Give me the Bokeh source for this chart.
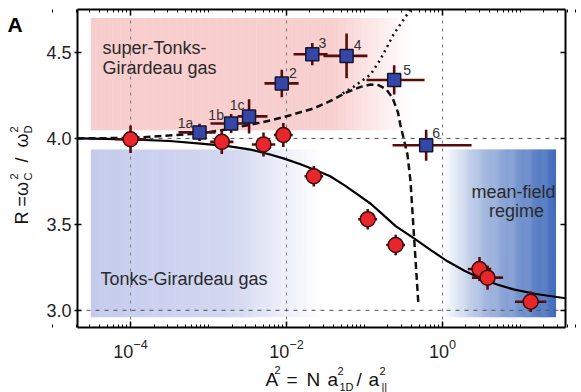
import math
import numpy as np
from bokeh.plotting import figure
from bokeh.models import (LogAxis, LinearAxis, FixedTicker, Label, ColumnDataSource,
                          LogTickFormatter, PrintfTickFormatter, Range1d, CustomJSTickFormatter)
from bokeh.embed import file_html
from bokeh.resources import INLINE
from bokeh.core.properties import value

# ---------------- data ----------------
red_x = [1.0e-4, 1.48e-3, 5.07e-3, 9.1e-3, 2.24e-2, 0.110, 0.251, 2.98, 3.78, 13.5]
red_y = [3.995, 3.98, 3.965, 4.02, 3.78, 3.53, 3.38, 3.24, 3.19, 3.05]
red_xlo = [6.3e-5, 1.05e-3, 3.59e-3, 6.9e-3, 1.7e-2, 8.3e-2, 0.19, 2.11, 2.38, 8.5]
red_xhi = [1.58e-4, 2.09e-3, 7.16e-3, 1.2e-2, 2.95e-2, 0.145, 0.331, 4.21, 5.98, 21.4]
red_yerr = [0.08, 0.07, 0.07, 0.07, 0.06, 0.06, 0.06, 0.07, 0.07, 0.06]

blue_labels = ["1a", "1b", "1c", "2", "3", "4", "5", "6"]
blue_x = [7.67e-4, 1.95e-3, 3.31e-3, 8.7e-3, 2.14e-2, 5.89e-2, 0.24, 0.617]
blue_y = [4.035, 4.087, 4.128, 4.32, 4.49, 4.48, 4.34, 3.96]
blue_xlo = [4.12e-4, 1.06e-3, 2.36e-3, 5.22e-3, 1.23e-2, 2.98e-2, 0.106, 0.229]
blue_xhi = [1.23e-3, 3.16e-3, 5.7e-3, 1.43e-2, 3.36e-2, 0.109, 0.589, 2.36]
blue_yerr = [0.05, 0.055, 0.10, 0.08, 0.065, 0.13, 0.085, 0.09]

solid_x = [2.09e-5, 1.0e-4, 3.16e-4, 7.94e-4, 1.78e-3, 3.47e-3, 6.31e-3, 9.12e-3, 1.51e-2,
           2.51e-2, 3.63e-2, 5.62e-2, 8.13e-2, 0.120, 0.160, 0.251, 0.427, 0.708, 1.16,
           1.91, 3.07, 5.01, 8.13, 15.8, 37.7]
solid_y = [4.0, 3.995, 3.985, 3.97, 3.955, 3.935, 3.905, 3.884, 3.85, 3.81, 3.78, 3.725,
           3.675, 3.62, 3.57, 3.49, 3.42, 3.35, 3.285, 3.23, 3.186, 3.15, 3.122, 3.095, 3.07]

dashed_x = [2.09e-5, 1.0e-4, 1.82e-4, 3.98e-4, 7.94e-4, 1.58e-3, 3.47e-3, 6.31e-3, 1.12e-2,
            2.24e-2, 3.55e-2, 6.03e-2, 8.91e-2, 0.120, 0.151, 0.191, 0.229, 0.269, 0.288,
            0.355, 0.389, 0.437, 0.490]
dashed_y = [4.0, 4.003, 4.01, 4.02, 4.03, 4.05, 4.08, 4.105, 4.135, 4.175, 4.215, 4.27,
            4.30, 4.314, 4.31, 4.285, 4.235, 4.15, 4.08, 3.907, 3.75, 3.39, 3.04]

dotted_x = [5.25e-2, 7.24e-2, 0.120, 0.160, 0.236, 0.316, 0.389]
dotted_y = [4.262, 4.30, 4.372, 4.46, 4.605, 4.69, 4.75]

x_major_ticks = [1e-4, 1e-2, 1e0]
y_ticks = [3.0, 3.5, 4.0, 4.5]
x_grid_ticks = [1e-4, 1e-2, 1e0]
y_grid_ticks = [3.0, 4.0]
x_minor_ticks = [k * 10.0 ** d for d in range(-5, 2) for k in range(1, 10)
                 if not any(abs(k * 10.0 ** d - t) / t < 1e-9 for t in x_major_ticks)]

label_dx = [-14, -15, -12, 11, 10, 11, 13, 10]
label_dy = [-9, -8, -11, -10, -11, -11, -10, -12]

# ---------------- geometry ----------------
FONT = "Liberation Sans"
X_LOG_MIN, X_LOG_MAX = -4.68, 1.577      # visible box range (log10)
Y_MIN, Y_MAX = 2.90, 4.75
W, H = 581, 392                          # canvas
BOX_L, BOX_T, BOX_R, BOX_B = 77, 9, 565, 327   # plot box inside the canvas (px)
PPD = (BOX_R - BOX_L) / (X_LOG_MAX - X_LOG_MIN)
PPU = (BOX_B - BOX_T) / (Y_MAX - Y_MIN)
XMIN, XMAX = 10 ** X_LOG_MIN, 10 ** X_LOG_MAX


def dx(px):
    return 10 ** (X_LOG_MIN + (px - BOX_L) / PPD)


def dy(py):
    return Y_MAX - (py - BOX_T) / PPU


p = figure(width=W, height=H, x_axis_type="log", x_axis_location=None, y_axis_location=None,
           x_range=Range1d(dx(0), dx(W)), y_range=Range1d(dy(H), dy(0)),
           output_backend="svg", toolbar_location=None, min_border=0)
p.background_fill_color = "white"
p.border_fill_color = "white"
p.outline_line_color = None
p.xgrid.visible = False
p.ygrid.visible = False


def add_gradient(lo, hi, y0, y1, rgb, apos, aval, n=120):
    lefts, rights, colors = [], [], []
    for i in range(n):
        a0 = lo + (hi - lo) * i / n
        a1 = lo + (hi - lo) * (i + 1) / n
        a = float(np.interp((a0 + a1) / 2, apos, aval))
        c = tuple(int(round(255 + (ch - 255) * a)) for ch in rgb)
        colors.append("#%02x%02x%02x" % c)
        lefts.append(10 ** a0)
        rights.append(10 ** (a1 + 0.006))
    src = ColumnDataSource(dict(left=lefts, right=rights, color=colors))
    p.quad(left="left", right="right", bottom=y0, top=y1, fill_color="color",
           line_color=None, source=src, level="image")


add_gradient(-4.51, -0.40, 4.047, 4.70, (248, 205, 205), [-4.51, -1.4, -0.40], [1.0, 0.95, 0.0])
add_gradient(-4.51, -1.55, 2.96, 3.936, (196, 203, 236), [-4.51, -2.7, -1.55], [1.0, 0.75, 0.0])
add_gradient(0.0, 1.45, 2.96, 3.936, (66, 108, 188), [0.0, 0.5, 1.45], [0.0, 0.45, 1.0])

# dashed reference lines (grid) limited to the plot box
p.segment(x0=x_grid_ticks, x1=x_grid_ticks, y0=[Y_MIN] * len(x_grid_ticks),
          y1=[Y_MAX] * len(x_grid_ticks), line_color="#7a7a7a", line_dash="3 5",
          line_width=1, level="underlay")
p.segment(x0=[XMIN] * len(y_grid_ticks), x1=[XMAX] * len(y_grid_ticks), y0=y_grid_ticks,
          y1=y_grid_ticks, line_color="#505050", line_dash="4 5", line_width=1,
          level="underlay")

# axes drawn at fixed positions around the plot box
common = dict(axis_line_width=2, major_tick_line_width=1.5, minor_tick_line_width=1)
bottom = LogAxis(fixed_location=Y_MIN, bounds=(XMIN, XMAX),
                 ticker=FixedTicker(ticks=x_major_ticks, minor_ticks=x_minor_ticks),
                 formatter=LogTickFormatter(), major_tick_in=6, major_tick_out=0,
                 minor_tick_in=3, minor_tick_out=0, major_label_standoff=11,
                 major_label_text_font=FONT, major_label_text_font_size="18px",
                 major_label_text_color="#222222", **common)
p.add_layout(bottom, "below")
left = LinearAxis(fixed_location=XMIN, bounds=(Y_MIN, Y_MAX),
                  ticker=FixedTicker(ticks=y_ticks), formatter=PrintfTickFormatter(format="%.1f"),
                  major_tick_in=4, major_tick_out=3, minor_tick_in=0, minor_tick_out=0,
                  major_label_standoff=3, major_label_text_font=FONT,
                  major_label_text_font_size="18px", major_label_text_color="#222222", **common)
p.add_layout(left, "left")
blank = CustomJSTickFormatter(code="return ''")
top = LogAxis(fixed_location=Y_MAX, bounds=(XMIN, XMAX),
              ticker=FixedTicker(ticks=x_major_ticks, minor_ticks=x_minor_ticks),
              formatter=blank, major_tick_in=6, major_tick_out=0, minor_tick_in=3,
              minor_tick_out=0, major_label_standoff=0, major_label_text_font_size="1px",
              **common)
p.add_layout(top, "above")
right = LinearAxis(fixed_location=XMAX, bounds=(Y_MIN, Y_MAX),
                   ticker=FixedTicker(ticks=y_ticks), formatter=blank, major_tick_in=5,
                   major_tick_out=0, minor_tick_in=0, minor_tick_out=0,
                   major_label_standoff=0, major_label_text_font_size="1px", **common)
p.add_layout(right, "right")

# theory curves
p.line(solid_x, solid_y, line_color="black", line_width=2.2)
p.line(dashed_x, dashed_y, line_color="#111111", line_width=2.5, line_dash="7 4")
p.line(dotted_x, dotted_y, line_color="#111111", line_width=2.5, line_dash="2 4")

# measurements
ERR = "#560c0c"
red_src = ColumnDataSource(dict(x=red_x, y=red_y, xlo=red_xlo, xhi=red_xhi,
                                ylo=[a - b for a, b in zip(red_y, red_yerr)],
                                yhi=[a + b for a, b in zip(red_y, red_yerr)]))
blue_src = ColumnDataSource(dict(x=blue_x, y=blue_y, xlo=blue_xlo, xhi=blue_xhi,
                                 ylo=[a - b for a, b in zip(blue_y, blue_yerr)],
                                 yhi=[a + b for a, b in zip(blue_y, blue_yerr)],
                                 name=blue_labels, ox=label_dx, oy=label_dy))
for src in (red_src, blue_src):
    p.segment(x0="xlo", x1="xhi", y0="y", y1="y", line_color=ERR, line_width=2.6, source=src)
    p.segment(x0="x", x1="x", y0="ylo", y1="yhi", line_color=ERR, line_width=2.6, source=src)

p.scatter(x="x", y="y", marker="circle", size=15, fill_color="#e8262b",
          line_color="#3a0808", line_width=1.5, source=red_src)
p.scatter(x="x", y="y", marker="square", size=13, fill_color="#3447a6",
          line_color="#151530", line_width=1.5, source=blue_src)

p.text(x="x", y="y", text="name", x_offset="ox", y_offset="oy", source=blue_src,
       text_font=value(FONT), text_font_size="14px", text_color="#333333",
       text_align="center", text_baseline="middle")


def lab(text, px, py, size, angle=0.0, style="normal", align="left", color="#2a2a2a"):
    p.add_layout(Label(x=dx(px), y=dy(py), text=text, text_font=FONT,
                       text_font_size="%dpx" % size, text_font_style=style,
                       text_color=color, text_align=align, text_baseline="alphabetic",
                       angle=angle))


lab("super-Tonks-", 102, 47, 18)
lab("Girardeau gas", 102, 67, 18)
lab("Tonks-Girardeau gas", 100, 278, 18)
lab("mean-field", 513, 191, 18, align="center")
lab("regime", 516, 210, 18, align="center")

lab("A", 7, 24, 21, style="bold", color="black")

# x axis title: A² = N a²_1D / a²_||
INK = "#111111"
lab("A", 265, 379, 19, color=INK)
lab("2", 274, 369, 11, color=INK)
lab("=", 286, 379, 19, color=INK)
lab("N", 306, 379, 19, color=INK)
lab("a", 327, 379, 19, color=INK)
lab("2", 337, 370, 11, color=INK)
lab("1D", 339, 386, 11, color=INK)
lab("/", 356, 379, 19, color=INK)
lab("a", 368, 379, 19, color=INK)
lab("2", 379, 370, 11, color=INK)
lab("||", 381, 386, 11, color=INK)

# y axis title: R = ω²_C / ω²_D (rotated)
rot = math.pi / 2
lab("R =ω", 21, 224, 18, angle=rot, color=INK)
lab("2", 13, 179, 11, angle=rot, color=INK)
lab("C", 27, 180, 11, angle=rot, color=INK)
lab("/", 21, 162, 18, angle=rot, color=INK)
lab("ω", 21, 147, 18, angle=rot, color=INK)
lab("2", 13, 132, 11, angle=rot, color=INK)
lab("D", 27, 133, 11, angle=rot, color=INK)

open("out.html", "w").write(file_html(p, INLINE))
